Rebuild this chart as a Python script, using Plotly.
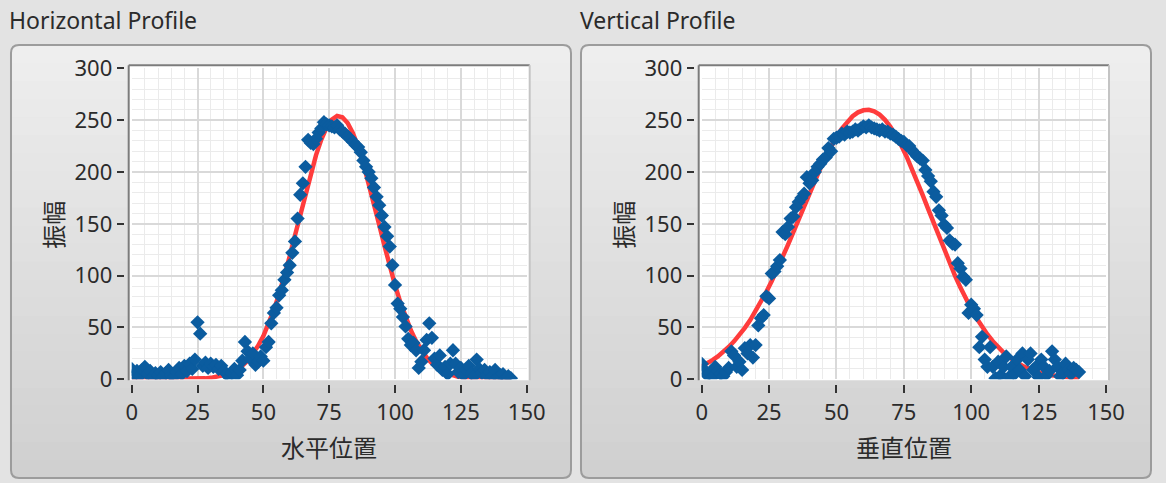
import plotly.graph_objects as go

# ---------------- data ----------------
hx = list(range(0, 145))
hy = [10, 4, 8, 3, 9, 12, 5, 8, 2, 6,
      4, 7, 3, 6, 9, 4, 2, 7, 11, 5,
      13, 8, 15, 10, 19, 55, 44, 13, 16, 11,
      15, 12, 14, 10, 13, 8, 5, 2, 6, 10,
      4, 9, 18, 36, 27, 20, 25, 14, 17, 22,
      18, 31, 36, 54, 64, 69, 81, 86, 96, 103,
      110, 122, 133, 155, 178, 189, 205, 231, 228, 227,
      232, 238, 242, 248, 246, 245, 244, 243, 245, 241,
      239, 237, 234, 232, 229, 226, 224, 219, 211, 205,
      200, 194, 185, 176, 168, 158, 147, 138, 128, 110,
      91, 73, 68, 60, 51, 39, 33, 35, 28, 11,
      17, 28, 38, 54, 40, 20, 14, 23, 9, 12,
      5, 15, 28, 15, 7, 11, 4, 9, 13, 6,
      3, 19, 10, 6, 9, 4, 7, 3, 9, 2,
      4, 5, 1, 3, 1]

hfit_x = list(range(0, 145, 2))
hfit_y = [0, 0, 0, 0, 0, 0, 0, 0, 0, 0.1,
          0.1, 0.2, 0.4, 0.6, 0.9, 1.4, 2.1, 3.1, 4.6, 6.6,
          9.4, 13.2, 18.0, 24.3, 32.2, 41.8, 53.4, 66.9, 82.5, 99.8,
          118.7, 138.7, 159.2, 179.5, 198.9, 216.3, 231.2, 242.8, 250.5, 254.0,
          252.7, 247.2, 237.5, 224.2, 207.8, 189.3, 169.4, 148.9, 128.6, 109.1,
          90.9, 74.5, 59.9, 47.3, 36.7, 28.0, 21.0, 15.4, 11.2, 7.9,
          5.5, 3.8, 2.5, 1.7, 1.1, 0.7, 0.4, 0.3, 0.2, 0.1,
          0.1, 0, 0]

vx = list(range(0, 141))
vy = [15, 9, 4, 6, 2, 12, 8, 5, 3, 7,
      11, 27, 23, 12, 17, 9, 30, 25, 33, 21,
      33, 52, 59, 62, 80, 78, 102, 104, 109, 115,
      142, 140, 147, 155, 157, 166, 171, 175, 179, 195,
      189, 192, 200, 205, 208, 212, 214, 223, 220, 232,
      233, 234, 237, 236, 239, 238, 239, 241, 240, 242,
      244, 243, 245, 243, 242, 241, 240, 241, 239, 239,
      237, 236, 234, 232, 230, 229, 226, 225, 221, 218,
      215, 213, 211, 202, 196, 191, 181, 176, 163, 158,
      149, 146, 134, 131, 130, 112, 107, 99, 96, 64,
      72, 68, 62, 31, 41, 19, 12, 31, 12, 1,
      17, 4, 12, 22, 2, 12, 5, 19, 9, 25,
      3, 19, 25, 9, 12, 2, 19, 12, 4, 8,
      27, 19, 12, 3, 6, 15, 9, 5, 11, 9,
      7]

vfit_x = list(range(0, 141, 2))
vfit_y = [12.6, 15.3, 18.5, 22.1, 26.3, 31.2, 36.6, 42.8, 49.6, 57.2,
          65.6, 74.6, 84.4, 94.9, 106.0, 117.6, 129.6, 142.0, 154.6, 167.1,
          179.7, 191.8, 203.5, 214.6, 224.7, 233.9, 241.9, 248.6, 253.8, 257.5,
          259.5, 260.0, 258.5, 255.3, 250.3, 243.5, 235.3, 225.7, 215.0, 203.2,
          190.7, 177.7, 164.4, 151.0, 137.7, 124.6, 112.0, 99.9, 88.5, 77.8,
          67.9, 58.9, 50.7, 43.3, 36.7, 30.9, 25.8, 21.5, 17.7, 14.4,
          11.7, 9.5, 7.6, 6.0, 4.7, 3.7, 2.9, 2.2, 1.7, 1.3,
          1.0]

x_ticks = [0, 25, 50, 75, 100, 125, 150]
y_ticks = [0, 50, 100, 150, 200, 250, 300]
titles = ["Horizontal Profile", "Vertical Profile"]
x_labels = ["水平位置", "垂直位置"]
y_label = "振幅"

# ---------------- layout helpers ----------------
W, H = 1166, 483
def px(x):
    return x / W
def py(y):
    return 1 - y / H

BLUE = "#0b5c9f"
RED = "#ff3c3c"
TXT = "#2b2b2b"
FONT = "Noto Sans, Noto Sans CJK JP, sans-serif"
CJK = "Noto Sans CJK JP, Noto Sans, sans-serif"

def rr_path(x0, y0, x1, y1, r, top=True, bottom=True):
    """rounded rectangle path in paper coords, pixel inputs"""
    rt = r if top else 0
    rb = r if bottom else 0
    P = lambda x, y: f"{px(x):.5f},{py(y):.5f}"
    d = f"M {P(x0 + rt, y0)} L {P(x1 - rt, y0)} "
    d += f"Q {P(x1, y0)} {P(x1, y0 + rt)} " if rt else ""
    d += f"L {P(x1, y1 - rb)} "
    d += f"Q {P(x1, y1)} {P(x1 - rb, y1)} " if rb else ""
    d += f"L {P(x0 + rb, y1)} "
    d += f"Q {P(x0, y1)} {P(x0, y1 - rb)} " if rb else ""
    d += f"L {P(x0, y0 + rt)} "
    d += f"Q {P(x0, y0)} {P(x0 + rt, y0)} " if rt else ""
    return d + "Z"

def mix(c0, c1, t):
    a = [int(c0[i:i + 2], 16) for i in (1, 3, 5)]
    b = [int(c1[i:i + 2], 16) for i in (1, 3, 5)]
    return "#" + "".join(f"{round(a[k] + (b[k] - a[k]) * t):02x}" for k in range(3))

panels = [
    dict(box=(11, 45, 571, 478), plot=(131.7, 68.3, 526.7, 379.3), tx=10,
         xs=hx, ys=hy, fx=hfit_x, fy=hfit_y),
    dict(box=(581, 45, 1151, 478), plot=(701.7, 68.3, 1106.0, 379.3), tx=581,
         xs=vx, ys=vy, fx=vfit_x, fy=vfit_y),
]

fig = go.Figure()
shapes = []
annotations = []
layout_axes = {}

for i, p in enumerate(panels):
    n = i + 1
    ax = "" if n == 1 else str(n)
    tn = str(n + 2)
    bx0, by0, bx1, by1 = p["box"]
    X0, Y0, X1, Y1 = p["plot"]

    # panel with vertical gradient
    NB = 24
    top_c, bot_c = "#eeeeee", "#d0d0d0"
    for k in range(NB):
        ya = by0 + (by1 - by0) * k / NB
        yb = by0 + (by1 - by0) * (k + 1) / NB + 0.6
        shapes.append(dict(type="path", xref="paper", yref="paper", layer="below",
                           path=rr_path(bx0, ya, bx1, min(yb, by1), 8,
                                        top=(k == 0), bottom=(k == NB - 1)),
                           fillcolor=mix(top_c, bot_c, k / (NB - 1)),
                           line=dict(width=0)))
    shapes.append(dict(type="path", xref="paper", yref="paper", layer="below",
                       path=rr_path(bx0, by0, bx1, by1, 8),
                       fillcolor="rgba(0,0,0,0)", line=dict(color="#9c9c9c", width=2)))
    # white plot background
    shapes.append(dict(type="rect", xref="paper", yref="paper", layer="below",
                       x0=px(X0 - 3), x1=px(X1 + 3), y0=py(Y1 + 1), y1=py(Y0 - 3),
                       fillcolor="white", line=dict(width=0)))
    # inset frame
    shapes.append(dict(type="line", xref="paper", yref="paper", layer="above",
                       x0=px(X0 - 3), x1=px(X1 + 3), y0=py(Y0 - 3), y1=py(Y0 - 3),
                       line=dict(color="#7c7c7c", width=2)))
    shapes.append(dict(type="line", xref="paper", yref="paper", layer="above",
                       x0=px(X0 - 3), x1=px(X0 - 3), y0=py(Y0 - 3), y1=py(Y1 + 1),
                       line=dict(color="#7c7c7c", width=2)))
    shapes.append(dict(type="line", xref="paper", yref="paper", layer="above",
                       x0=px(X1 + 3), x1=px(X1 + 3), y0=py(Y0 - 3), y1=py(Y1 + 1),
                       line=dict(color="#c4c4c4", width=2)))

    # traces
    fig.add_trace(go.Scatter(x=p["fx"], y=p["fy"], mode="lines",
                             line=dict(color=RED, width=4.5),
                             xaxis="x" + ax, yaxis="y" + ax, showlegend=False,
                             hoverinfo="skip"))
    fig.add_trace(go.Scatter(x=p["xs"], y=p["ys"], mode="markers",
                             marker=dict(symbol="diamond", size=11, color=BLUE,
                                         line=dict(width=0)),
                             xaxis="x" + ax, yaxis="y" + ax, showlegend=False))
    fig.add_trace(go.Scatter(x=[0], y=[0], mode="markers", marker=dict(opacity=0),
                             xaxis="x" + tn, yaxis="y" + tn, showlegend=False,
                             hoverinfo="skip"))

    dom_x = [px(X0), px(X1)]
    dom_y = [py(Y1), py(Y0)]
    layout_axes["xaxis" + ax] = dict(
        domain=dom_x, range=[0, 150], anchor="y" + ax, showticklabels=False,
        ticks="", showline=False, zeroline=False, tickvals=x_ticks, automargin=False,
        showgrid=True, gridcolor="#d9d9d9", gridwidth=1.5,
        minor=dict(dtick=5, tick0=0, showgrid=True, gridcolor="#ebebeb", gridwidth=1),
        fixedrange=True)
    layout_axes["yaxis" + ax] = dict(
        domain=dom_y, range=[0, 300], anchor="x" + ax, showticklabels=False,
        ticks="", showline=False, zeroline=False, tickvals=y_ticks, automargin=False,
        showgrid=True, gridcolor="#d9d9d9", gridwidth=1.5,
        minor=dict(dtick=10, tick0=0, showgrid=True, gridcolor="#ebebeb", gridwidth=1),
        fixedrange=True)
    layout_axes["xaxis" + tn] = dict(
        overlaying="x" + ax, anchor="free", position=py(Y1 + 5), range=[0, 150],
        tickvals=x_ticks, ticktext=[str(v) for v in x_ticks], automargin=False,
        ticks="outside", ticklen=8, tickwidth=2, tickcolor="#333333",
        showgrid=False, zeroline=False, showline=False,
        tickfont=dict(family=FONT, size=22, color=TXT), fixedrange=True)
    layout_axes["yaxis" + tn] = dict(
        overlaying="y" + ax, anchor="free", position=px(X0 - 8), range=[0, 300],
        tickvals=y_ticks, ticktext=[str(v) for v in y_ticks], automargin=False,
        ticks="outside", ticklen=7, tickwidth=2, tickcolor="#333333",
        showgrid=False, zeroline=False, showline=False,
        tickfont=dict(family=FONT, size=22, color=TXT), fixedrange=True)

    annotations.append(dict(text=titles[i], x=px(p["tx"] - 3), y=py(20), xref="paper",
                            yref="paper", xanchor="left", yanchor="middle",
                            showarrow=False, font=dict(family=FONT, size=23, color=TXT)))
    annotations.append(dict(text=x_labels[i], x=px((X0 + X1) / 2), y=py(446),
                            xref="paper", yref="paper", xanchor="center",
                            yanchor="middle", showarrow=False,
                            font=dict(family=CJK, size=24, color=TXT)))
    annotations.append(dict(text=y_label, x=px(X0 - 80), y=py(225),
                            xref="paper", yref="paper", xanchor="center",
                            yanchor="middle", showarrow=False, textangle=-90,
                            font=dict(family=CJK, size=24, color=TXT)))

fig.update_layout(
    width=W, height=H,
    margin=dict(l=0, r=0, t=0, b=0, pad=0, autoexpand=False),
    paper_bgcolor="#e3e3e3", plot_bgcolor="white",
    shapes=shapes, annotations=annotations, showlegend=False,
    **layout_axes)

fig.write_html("out.html", config={"displayModeBar": False},
               post_script="document.body.style.margin='0';document.body.style.overflow='hidden';")
